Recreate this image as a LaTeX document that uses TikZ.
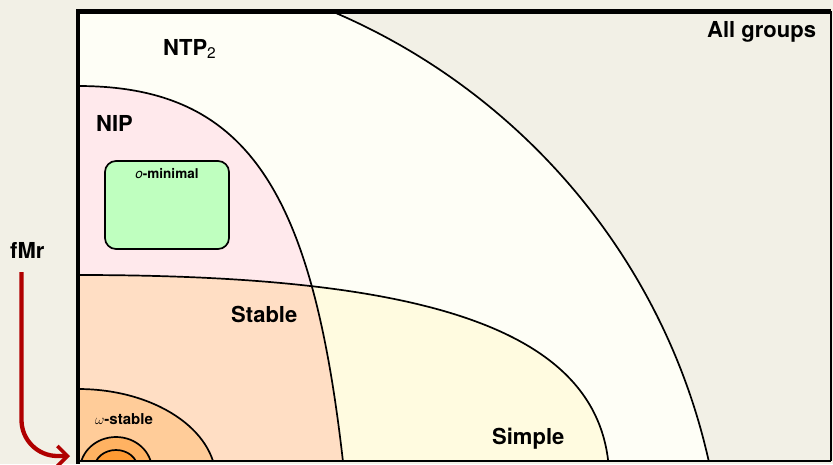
\documentclass[tikz,border=0pt]{standalone}
\usepackage{fontspec}
\setmainfont{TeX Gyre Heros}
\usetikzlibrary{arrows.meta}
\definecolor{paper}{HTML}{F2F0E6}
\definecolor{ivory}{HTML}{FEFEF6}
\definecolor{nipfill}{HTML}{FFE9EC}
\definecolor{stablefill}{HTML}{FFDEC4}
\definecolor{simplefill}{HTML}{FFFBE0}
\definecolor{omegafill}{HTML}{FFCC99}
\definecolor{innerfill}{HTML}{FFB262}
\definecolor{corefill}{HTML}{FF9A33}
\definecolor{ominfill}{HTML}{BFFFBF}
\definecolor{fmrred}{HTML}{B00000}
\tikzset{
  border/.style={draw=black, line width=1.7pt},
  biglabel/.style={font=\bfseries\fontsize{22}{24}\selectfont, inner sep=0pt, anchor=base west},
  smalllabel/.style={font=\bfseries\fontsize{15}{17}\selectfont, inner sep=0pt, anchor=base west},
  tinylabel/.style={font=\bfseries\fontsize{13.5}{15}\selectfont, inner sep=0pt, anchor=base},
}
\begin{document}
\begin{tikzpicture}[x=1pt, y=-1pt]
  \useasboundingbox (0,0) rectangle (833,464);
  \fill[paper] (0,0) rectangle (833,464);

  % regions, clipped to the frame
  \begin{scope}
    \clip (78,11) rectangle (831,461);
    % NTP2
    \filldraw[fill=ivory, border] (78,600) ellipse [x radius=646, y radius=640];
    % Simple
    \fill[simplefill] (78,275) .. controls (415,275) and (600,325) .. (609,470) -- (78,470) -- cycle;
    % NIP
    \fill[nipfill] (78,86) .. controls (255,86) and (318,200) .. (347,500) -- (78,500) -- cycle;
    % Stable = NIP and Simple
    \begin{scope}
      \clip (78,86) .. controls (255,86) and (318,200) .. (347,500) -- (78,500) -- cycle;
      \fill[stablefill] (78,275) .. controls (415,275) and (600,325) .. (609,470) -- (78,470) -- cycle;
    \end{scope}
    \draw[border] (78,275) .. controls (415,275) and (600,325) .. (609,470);
    \draw[border] (78,86) .. controls (255,86) and (318,200) .. (347,500);
    % omega-stable and the inner domes
    \filldraw[fill=omegafill, border] (78,480) ellipse [x radius=138, y radius=91];
    \filldraw[fill=innerfill, border] (116,470) ellipse [x radius=36, y radius=33];
    \filldraw[fill=corefill, border] (116,468) ellipse [x radius=21.5, y radius=18];
  \end{scope}

  % o-minimal box
  \draw[border, fill=ominfill, rounded corners=11pt] (105,161) rectangle (229,249);

  % frame
  \draw[line width=4.5pt] (831,11.3) -- (75.8,11.3);
  \draw[line width=4.5pt] (78,9) -- (78,464);
  \draw[line width=1.8pt] (831,11.3) -- (831,461);
  \draw[line width=1.8pt] (78,461) -- (831,461);

  % labels
  \node[biglabel] (ntp) at (163,55) {NTP\textsubscript{\mdseries 2}};
  \node[biglabel] (all) at (707,37) {All groups};
  \node[biglabel] (nip) at (96,131.5) {NIP};
  \node[biglabel] (stable) at (231,322) {Stable};
  \node[biglabel] (simple) at (492,444) {Simple};
  \node[biglabel] (fmr) at (10,258) {fMr};
  \node[smalllabel] (omega) at (95,424) {$\omega$-stable};
  \node[tinylabel] (omin) at (167,178) {{\mdseries\itshape o}-minimal};

  % fMr arrow into the corner
  \coordinate (fmrstart) at (21.5,272);
  \coordinate (corner) at (70,456);
  \draw[fmrred, line width=4.3pt, rounded corners=36pt,
        -{Straight Barb[length=10pt, width=20pt, line width=3.6pt]}]
    (fmrstart) |- (corner);
\end{tikzpicture}
\end{document}
